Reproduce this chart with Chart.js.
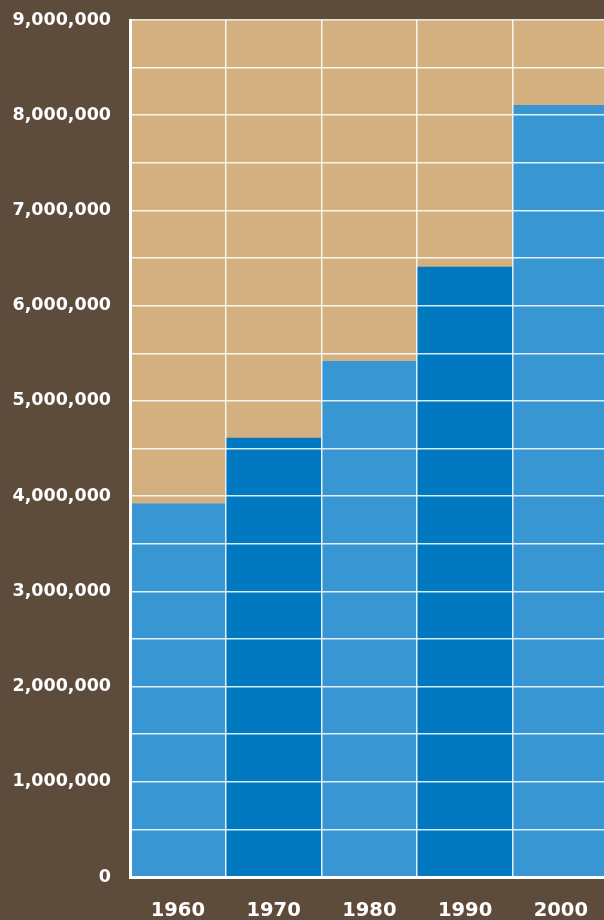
<!DOCTYPE html>
<html>
<head>
<meta charset="utf-8">
<script src="https://cdn.jsdelivr.net/npm/chart.js@4"></script>
<style>
  html, body { margin: 0; padding: 0; background: #5d4b3c; overflow: hidden; }
  #wrap { width: 610px; height: 920px; }
</style>
</head>
<body>
<div id="wrap"><canvas id="chart"></canvas></div>
<script>
const years = ['1960', '1970', '1980', '1990', '2000']
const population = [3920000, 4610000, 5415000, 6405000, 8105000]
const barColors = ['#3896d3', '#0079c0', '#3896d3', '#0079c0', '#3896d3']

// tan plot area behind the bars
const plotBackground = {
    id: 'plotBackground',
    beforeDraw(chart) {
        const { ctx, chartArea } = chart
        ctx.save()
        ctx.fillStyle = '#d4b080'
        ctx.fillRect(chartArea.left, chartArea.top, chartArea.right - chartArea.left, chartArea.bottom - chartArea.top)
        ctx.restore()
    }
}

const gridWhite = 'rgba(255,255,255,0.85)'

new Chart(document.getElementById('chart'), {
    type: 'bar',
    data: {
        labels: years,
        datasets: [{
            data: population,
            backgroundColor: barColors,
            borderWidth: 0,
            barPercentage: 1,
            categoryPercentage: 1
        }]
    },
    options: {
        responsive: true,
        maintainAspectRatio: false,
        animation: false,
        layout: { padding: { top: 20, right: 0, left: 0, bottom: 0 } },
        plugins: { legend: { display: false }, tooltip: { enabled: false } },
        scales: {
            x: {
                grid: {
                    z: 1,
                    color: gridWhite,
                    lineWidth: 1.5,
                    offset: true,
                    drawTicks: false
                },
                border: { z: 2, color: '#ffffff', width: 3 },
                ticks: { color: '#ffffff', padding: 22, font: { family: 'DejaVu Sans', weight: 'bold', size: 19.5 } },
                afterFit: scale => { scale.height = 43 }
            },
            y: {
                min: 0,
                max: 9000000,
                grid: { z: 1, color: gridWhite, lineWidth: 1.5, drawTicks: false },
                border: { z: 2, color: '#ffffff', width: 3 },
                ticks: {
                    stepSize: 500000,
                    autoSkip: false,
                    color: '#ffffff',
                    padding: 19,
                    font: { family: 'DejaVu Sans', weight: 'bold', size: 17.5 },
                    callback: v => v % 1000000 === 0 ? v.toLocaleString('en-US') : ''
                },
                afterFit: scale => {
                    scale.width = 130
                    scale.paddingTop = 0
                    scale.paddingBottom = 0
                }
            }
        }
    },
    plugins: [plotBackground]
})
</script>
</body>
</html>
